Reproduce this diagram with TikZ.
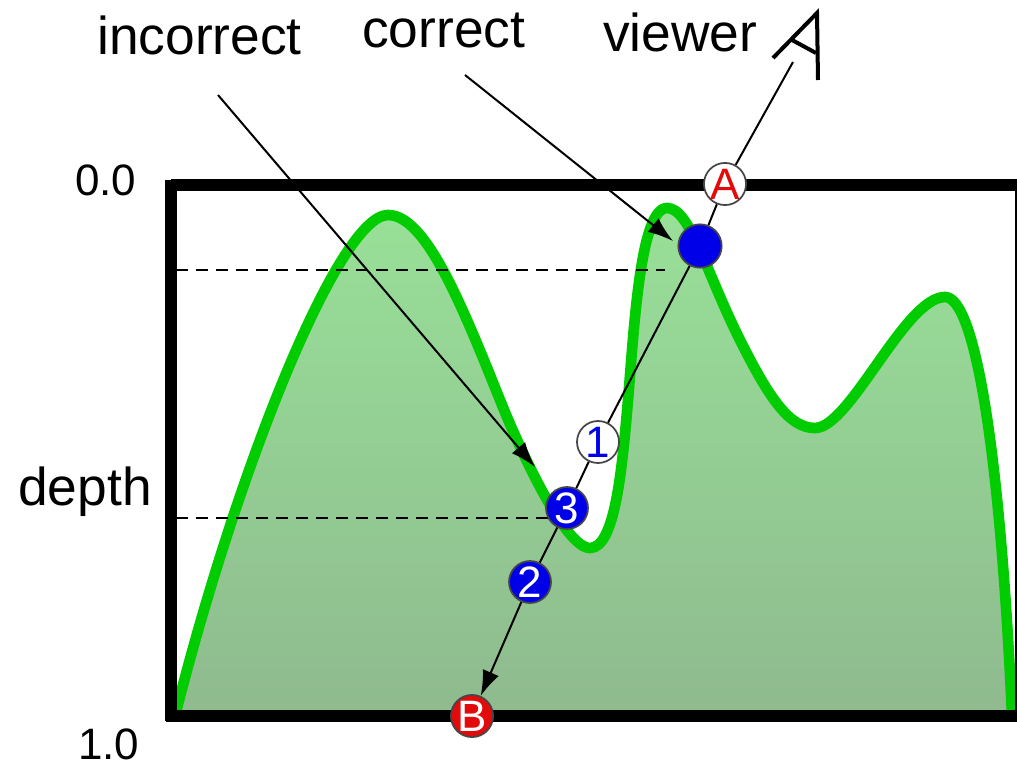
\documentclass[tikz,border=0pt]{standalone}
\usepackage{fontspec}
\setmainfont{Liberation Sans}
\usetikzlibrary{arrows.meta}
\definecolor{curvegreen}{RGB}{0,204,0}
\definecolor{filltop}{RGB}{152,224,152}
\definecolor{fillbot}{RGB}{143,186,143}
\definecolor{dotblue}{RGB}{0,0,232}
\definecolor{dotred}{RGB}{226,10,10}
\definecolor{rimgray}{RGB}{70,70,70}
\begin{document}
\begin{tikzpicture}[x=0.75pt,y=-0.75pt,
  lbl/.style={font=\fontsize{40}{48}\selectfont, inner sep=0pt, anchor=base west},
  numlbl/.style={font=\fontsize{33}{40}\selectfont, inner sep=0pt, anchor=base west},
  dotnode/.style={circle, draw=rimgray, line width=1.3pt, minimum size=31.5pt, inner sep=0pt, font=\fontsize{33}{33}\selectfont},
  ray/.style={line width=1.5pt, black},
  pointer/.style={line width=1.5pt, black, -{Latex[length=19pt,width=13pt]}},
  guide/.style={line width=1.5pt, black, dash pattern=on 9pt off 6pt},
]
\useasboundingbox (0,0) rectangle (1017,767);

% terrain fill
\path[top color=filltop, bottom color=fillbot]
  (176,716) -- (176,712)
  .. controls (240,460) and (340,215) .. (388,215)
  .. controls (425,215) and (460,300) .. (500,400)
  .. controls (520,450) and (565,548) .. (590,548)
  .. controls (615,548) and (622,470) .. (628,400)
  .. controls (634,330) and (640,208) .. (667,208)
  .. controls (690,208) and (705,270) .. (740,340)
  .. controls (770,400) and (790,428) .. (815,428)
  .. controls (850,428) and (905,297) .. (945,297)
  .. controls (975,297) and (1000,450) .. (1012,715)
  -- (1012,716) -- cycle;

% terrain outline
\draw[curvegreen, line width=8pt, line join=round]
  (176,712)
  .. controls (240,460) and (340,215) .. (388,215)
  .. controls (425,215) and (460,300) .. (500,400)
  .. controls (520,450) and (565,548) .. (590,548)
  .. controls (615,548) and (622,470) .. (628,400)
  .. controls (634,330) and (640,208) .. (667,208)
  .. controls (690,208) and (705,270) .. (740,340)
  .. controls (770,400) and (790,428) .. (815,428)
  .. controls (850,428) and (905,297) .. (945,297)
  .. controls (975,297) and (1000,450) .. (1012,715);

% dashed depth guides
\coordinate (g1a) at (176,270);
\coordinate (g1b) at (665,270);
\coordinate (g2a) at (176,518);
\coordinate (g2b) at (550,518);
\draw[guide] (g1a) -- (g1b);
\draw[guide] (g2a) -- (g2b);

% frame
\draw[black, line width=8.5pt] (171,185) -- (1030,185);
\draw[black, line width=8.5pt] (171,180) -- (171,721);
\draw[black, line width=8.5pt] (166,716) -- (1030,716);
\draw[black, line width=1.2pt] (1016,185) -- (1016,716);

% labels
\node[lbl] (tinc) at (97,55) {incorrect};
\node[lbl] (tcor) at (362,48) {correct};
\node[lbl] (tview) at (603,52) {viewer};
\node[numlbl] (t00) at (75,195) {0.0};
\node[lbl] (tdepth) at (18,505) {depth};
\node[numlbl] (t10) at (78,759) {1.0};

% viewer glyph
\draw[black, line width=3pt, line join=miter] (773,58) -- (817,13) -- (818,80);
\draw[black, line width=3pt] (792,40) -- (816,53);
\coordinate (eye) at (793,62);

% sample points
\node[dotnode, fill=white, text=dotred] (pA) at (725,184) {A};
\node[dotnode, fill=dotblue, minimum size=32.5pt] (hit) at (700,246) {};
\node[dotnode, fill=white, text=dotblue] (p1) at (598,442) {1};
\node[dotnode, fill=dotblue, text=white] (p3) at (567,508) {3};
\node[dotnode, fill=dotblue, text=white] (p2) at (530,582) {2};
\node[dotnode, fill=dotred, text=white] (pB) at (472,716) {B};

% ray
\draw[ray] (eye) -- (pA);
\draw[ray] (pA) -- (hit);
\draw[ray] (hit) -- (p1);
\draw[ray] (p1) -- (p3);
\draw[ray] (p3) -- (p2);
\draw[pointer] (p2) -- (pB);

% pointers
\coordinate (incstart) at (218,95);
\coordinate (incend) at (535,467);
\coordinate (corstart) at (465,75);
\coordinate (corend) at (673,241);
\draw[pointer] (incstart) -- (incend);
\draw[pointer] (corstart) -- (corend);
\end{tikzpicture}
\end{document}
